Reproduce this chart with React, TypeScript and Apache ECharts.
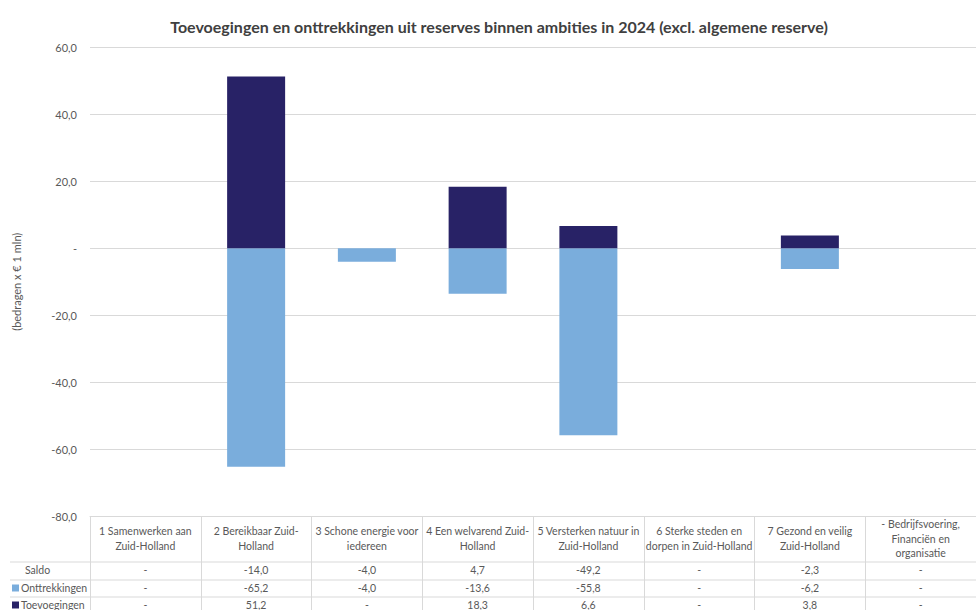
import React, { useEffect, useRef } from "react";
import * as echarts from "echarts";

const TITLE = "Toevoegingen en onttrekkingen uit reserves binnen ambities in 2024 (excl. algemene reserve)";
const Y_AXIS_NAME = "(bedragen x € 1 mln)";
const CATEGORIES = [
  "1 Samenwerken aan Zuid-Holland",
  "2 Bereikbaar Zuid-Holland",
  "3 Schone energie voor iedereen",
  "4 Een welvarend Zuid-Holland",
  "5 Versterken natuur in Zuid-Holland",
  "6 Sterke steden en dorpen in Zuid-Holland",
  "7 Gezond en veilig Zuid-Holland",
  "- Bedrijfsvoering, Financiën en organisatie",
];
const SALDO = [0, -14.0, -4.0, 4.7, -49.2, 0, -2.3, 0];
const ONTTREKKINGEN = [0, -65.2, -4.0, -13.6, -55.8, 0, -6.2, 0];
const TOEVOEGINGEN = [0, 51.2, 0, 18.3, 6.6, 0, 3.8, 0];
const ROW_NAMES = ["Saldo", "Onttrekkingen", "Toevoegingen"];
const Y_MIN = -80;
const Y_MAX = 60;
const Y_STEP = 20;

const COLOR_ONT = "#7aaddc";
const COLOR_TOE = "#282266";
const TEXT = "#595959";
const LINE = "#d9d9d9";
const FONT = "Lato, 'Open Sans', sans-serif";
const TABLE_FS = 10.5;

const fmt = (v: number) => (v === 0 ? "-" : v.toFixed(1).replace(".", ","));

function wrap(name: string, max: number): string {
  const tokens = name.match(/[^\s-]+-?|-|\s+/g) || [name];
  const lines: string[] = [];
  let cur = "";
  for (const t of tokens) {
    if (/^\s+$/.test(t)) {
      cur += " ";
      continue;
    }
    if (cur.length + t.length > max && cur.trim().length > 0) {
      lines.push(cur.trim());
      cur = t;
    } else {
      cur += t;
    }
  }
  if (cur.trim()) lines.push(cur.trim());
  return lines.join("\n");
}

export default function App() {
  const ref = useRef<HTMLDivElement>(null);
  useEffect(() => {
    if (!ref.current) return;
    const chart = echarts.init(ref.current, undefined, { renderer: "svg" });
    const rowValues = [SALDO, ONTTREKKINGEN, TOEVOEGINGEN];
    const rowMargins = [53, 71, 88];
    const rowLineYs = [562, 580, 597];
    const rowColors = [null, COLOR_ONT, COLOR_TOE];

    const extraAxes = rowValues.map((vals, i) => ({
      type: "category",
      gridIndex: 0,
      position: "bottom",
      data: CATEGORIES,
      axisLine: { show: false, onZero: false },
      axisTick: { show: false },
      splitLine: { show: false },
      axisLabel: {
        interval: 0,
        margin: rowMargins[i],
        verticalAlign: "middle",
        color: TEXT,
        fontSize: TABLE_FS,
        fontFamily: FONT,
        formatter: (_: string, idx: number) => fmt(vals[idx]),
      },
    }));

    const graphics: any[] = [];
    rowLineYs.forEach((y) => {
      graphics.push({
        type: "line",
        shape: { x1: 10, y1: y, x2: 976, y2: y },
        style: { stroke: LINE, lineWidth: 1 },
        silent: true,
      });
    });
    ROW_NAMES.forEach((n, i) => {
      const cy = 517 + rowMargins[i];
      if (rowColors[i]) {
        graphics.push({
          type: "rect",
          shape: { x: 12, y: cy - 3.5, width: 7, height: 7 },
          style: { fill: rowColors[i] as string },
          silent: true,
        });
      }
      graphics.push({
        type: "text",
        x: i === 0 ? 25 : 21,
        y: cy,
        style: {
          text: n,
          fill: TEXT,
          font: `${TABLE_FS}px ${FONT}`,
          verticalAlign: "middle",
          align: "left",
        },
        silent: true,
      });
    });

    chart.setOption({
      animation: false,
      backgroundColor: "#ffffff",
      title: {
        text: TITLE,
        left: 494,
        top: 13,
        textAlign: "center",
        textStyle: { color: "#404040", fontSize: 16, fontWeight: "bold", fontFamily: FONT },
      },
      grid: { left: 90, top: 47, width: 896, height: 470, containLabel: false },
      xAxis: [
        {
          type: "category",
          data: CATEGORIES,
          position: "bottom",
          axisLine: { show: true, onZero: false, lineStyle: { color: LINE } },
          axisTick: { show: true, length: 95, lineStyle: { color: LINE } },
          splitLine: { show: false },
          axisLabel: {
            interval: 0,
            margin: 22,
            verticalAlign: "middle",
            align: "center",
            lineHeight: 14.5,
            color: TEXT,
            fontSize: TABLE_FS,
            fontFamily: FONT,
            formatter: (v: string) => wrap(v, 22),
          },
        },
        ...extraAxes,
      ],
      yAxis: {
        type: "value",
        min: Y_MIN,
        max: Y_MAX,
        interval: Y_STEP,
        name: Y_AXIS_NAME,
        nameLocation: "middle",
        nameGap: 68,
        nameRotate: 90,
        nameTextStyle: { color: TEXT, fontSize: 11, fontFamily: FONT },
        axisLine: { show: false },
        axisTick: { show: false },
        splitLine: { lineStyle: { color: LINE } },
        axisLabel: {
          margin: 13,
          color: TEXT,
          fontSize: 11,
          fontFamily: FONT,
          formatter: (v: number) => fmt(v),
        },
      },
      series: [
        {
          name: ROW_NAMES[1],
          type: "bar",
          stack: "total",
          barWidth: 58,
          itemStyle: { color: COLOR_ONT },
          data: ONTTREKKINGEN,
        },
        {
          name: ROW_NAMES[2],
          type: "bar",
          stack: "total",
          barWidth: 58,
          itemStyle: { color: COLOR_TOE },
          data: TOEVOEGINGEN,
        },
      ],
      graphic: graphics,
    });
    return () => chart.dispose();
  }, []);
  return (
    <div
      ref={ref}
      style={{ position: "fixed", left: 0, top: 0, width: 976, height: 610, background: "#fff" }}
    />
  );
}
